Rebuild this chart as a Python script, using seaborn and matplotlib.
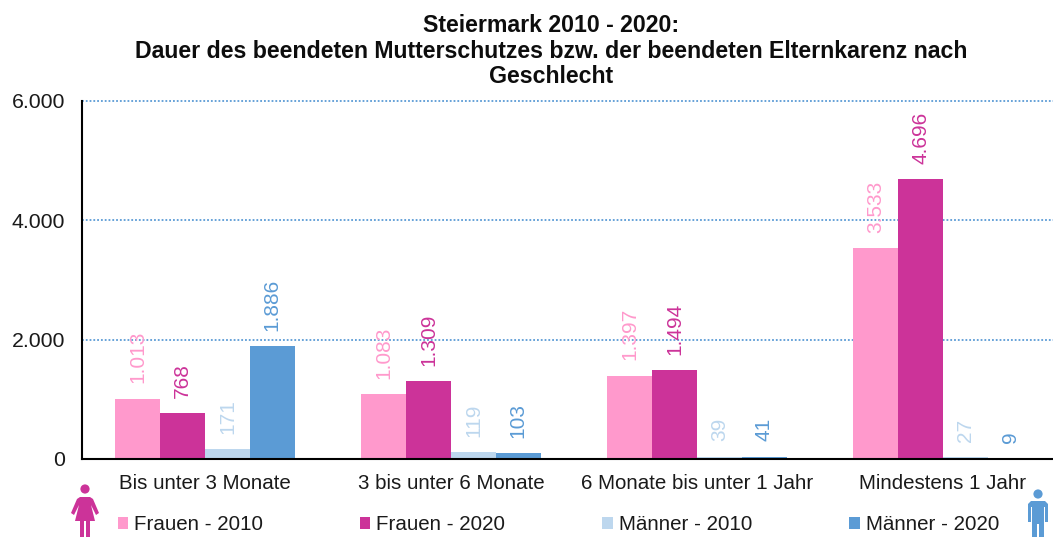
import pandas as pd
import matplotlib
matplotlib.use('Agg')
import matplotlib.pyplot as plt
from matplotlib.patches import Circle, Polygon
from matplotlib.transforms import Affine2D
import seaborn as sns

# Values
categories = ['Bis unter 3 Monate', '3 bis unter 6 Monate', '6 Monate bis unter 1 Jahr', 'Mindestens 1 Jahr']
frauen_2010 = [1013, 1083, 1397, 3533]
frauen_2020 = [768, 1309, 1494, 4696]
maenner_2010 = [171, 119, 39, 27]
maenner_2020 = [1886, 103, 41, 9]
series_names = ['Frauen - 2010', 'Frauen - 2020', 'Männer - 2010', 'Männer - 2020']
y_ticks = [0, 2000, 4000, 6000]
y_tick_labels = ['0', '2.000', '4.000', '6.000']
title = 'Steiermark 2010 - 2020:\nDauer des beendeten Mutterschutzes bzw. der beendeten Elternkarenz nach\nGeschlecht'

colors = ['#FF99CC', '#CC3399', '#BDD7EE', '#5B9BD5']

df = pd.DataFrame({'Dauer': categories, series_names[0]: frauen_2010, series_names[1]: frauen_2020,
                   series_names[2]: maenner_2010, series_names[3]: maenner_2020})
df = df.melt(id_vars='Dauer', var_name='Serie', value_name='Anzahl')

sns.set_theme(style='white')
plt.rcParams['font.family'] = ['Liberation Sans', 'DejaVu Sans']

W, H = 1053, 537
fig = plt.figure(figsize=(W / 100, H / 100), dpi=100)
# the plot area runs past the right edge of the picture, like in the original
ax = fig.add_axes([82 / W, 1 - 459 / H, 984 / W, 358 / H])

sns.barplot(data=df, x='Dauer', y='Anzahl', hue='Serie', palette=colors, saturation=1,
            width=0.728, gap=0, linewidth=0, ax=ax, zorder=3)

ax.set_ylim(0, 6000)
ax.set_xlim(-0.5, 3.5)
ax.set_xlabel('')
ax.set_ylabel('')
ax.set_yticks(y_ticks)
ax.set_yticklabels(y_tick_labels, fontsize=15.3, color='#1a1a1a')
ax.tick_params(axis='y', length=0, pad=12)
ax.tick_params(axis='x', length=0, pad=11, labelsize=14.8, labelcolor='#1a1a1a')
ax.yaxis.grid(True, linestyle=(0, (1, 1.1)), color='#5B9BD5', linewidth=1.3, zorder=1, clip_on=False)
ax.xaxis.grid(False)

for side in ['top', 'right']:
    ax.spines[side].set_visible(False)
for side in ['left', 'bottom']:
    ax.spines[side].set_color('black')
    ax.spines[side].set_linewidth(1.5)
    ax.spines[side].set_zorder(5)

# Rotated value labels in the series colour
for container, color in zip(ax.containers, colors):
    labels = [f'{v:,.0f}'.replace(',', '.') for v in container.datavalues]
    ax.bar_label(container, labels=labels, rotation=90, color=color, fontsize=15, padding=11)

handles, names = ax.get_legend_handles_labels()
ax.get_legend().remove()
fig.legend(handles, names, ncol=4, frameon=False, loc='center left', bbox_to_anchor=(117.5 / W, 1 - 525 / H),
           fontsize=14.8, handlelength=0.5, handleheight=0.5, handletextpad=0.3, columnspacing=4.72,
           borderpad=0, borderaxespad=0, labelcolor='#1a1a1a')

fig.text(551 / W, 1 - 51 / H, title, ha='center', va='center', fontsize=16.7, fontweight='bold',
         color='#0d0d0d', linespacing=1.15)

# Pictograms, drawn in pixel positions (y counted from the top)
to_px = Affine2D().scale(1, -1).translate(0, H)


def add_icon(parts, color):
    for p in parts:
        p.set_transform(to_px)
        p.set_facecolor(color)
        p.set_edgecolor('none')
        fig.add_artist(p)


def woman(cx, color):
    body = [(cx - 5, 497), (cx + 5, 497), (cx + 8, 499), (cx + 14, 513), (cx + 11, 515), (cx + 6, 505),
            (cx + 10, 521), (cx + 5, 521), (cx + 5, 537), (cx + 1, 537), (cx + 1, 521), (cx - 1, 521),
            (cx - 1, 537), (cx - 5, 537), (cx - 5, 521), (cx - 10, 521), (cx - 6, 505), (cx - 11, 515),
            (cx - 14, 513), (cx - 8, 499)]
    add_icon([Circle((cx, 489), 4.6), Polygon(body)], color)


def man(cx, color):
    body = [(cx - 7, 501), (cx + 7, 501), (cx + 10, 504), (cx + 10, 522), (cx + 7, 522), (cx + 7, 507),
            (cx + 6, 507), (cx + 6, 537), (cx + 1, 537), (cx + 1, 524), (cx - 1, 524), (cx - 1, 537),
            (cx - 6, 537), (cx - 6, 507), (cx - 7, 507), (cx - 7, 522), (cx - 10, 522), (cx - 10, 504)]
    add_icon([Circle((cx, 494), 4.6), Polygon(body)], color)


woman(85, '#CC3399')
man(1038, '#5B9BD5')

fig.savefig('out.png', dpi=100)
